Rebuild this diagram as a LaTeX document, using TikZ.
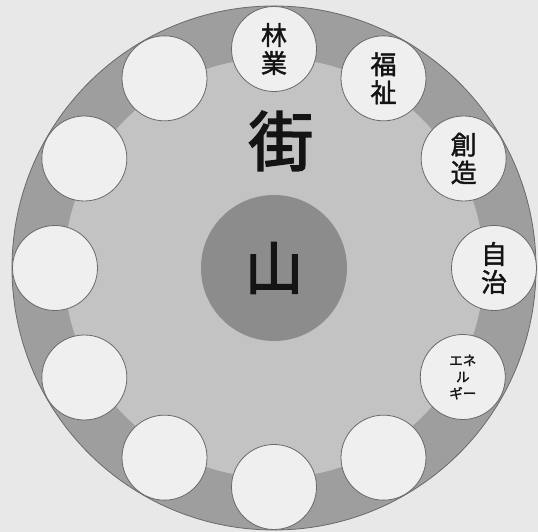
\documentclass[tikz,border=0pt]{standalone}
\usepackage{fontspec}
\usetikzlibrary{calc}
\newfontfamily\jp[FakeBold=1.6]{Noto Sans CJK JP}
\newfontfamily\jpb[FakeBold=2.5]{Noto Sans CJK JP}
\definecolor{bgc}{RGB}{232,232,232}
\definecolor{ringc}{RGB}{158,158,158}
\definecolor{innerc}{RGB}{195,195,195}
\definecolor{corec}{RGB}{140,140,140}
\definecolor{smallc}{RGB}{239,239,239}
\definecolor{linec}{RGB}{105,105,105}
\definecolor{txt}{RGB}{20,20,20}
\tikzset{
  bubble/.style={circle, draw=linec, line width=0.8pt, fill=smallc, minimum size=85pt, inner sep=0pt, align=center, text=txt, font=\jp\fontsize{26}{28}\selectfont},
  smallbubble/.style={bubble, font=\jp\fontsize{13.5}{16.5}\selectfont}
}
\begin{document}
\begin{tikzpicture}[x=1pt,y=1pt]
\useasboundingbox (0,0) rectangle (538,532);
\fill[bgc] (0,0) rectangle (538,532);
\coordinate (O) at (274,264);
\begin{scope}
\clip (0,0) rectangle (538,532);
\draw[linec, line width=0.8pt, fill=ringc] (O) circle (262);
\end{scope}
\fill[innerc] (O) circle (210);
\node[circle, fill=corec, minimum size=146pt, inner sep=0pt, text=txt, font=\jpb\fontsize{58}{60}\selectfont] (core) at (O) {山};
\node[text=txt, font=\jpb\fontsize{65}{67}\selectfont, inner sep=0pt] (machi) at ($(O)+(7,127)$) {街};
\node[bubble] (b90) at ($(O)+(90:219)$) {林\\業};
\node[bubble] (b60) at ($(O)+(60:219)$) {福\\祉};
\node[bubble] (b30) at ($(O)+(30:219)$) {創\\造};
\node[bubble] (b0) at ($(O)+(0:220)$) {自\\治};
\node[smallbubble] (bm30) at ($(O)+(-30:218)$) {エネ\\ル\\ギー};
\node[bubble] (bm60) at ($(O)+(-60:219)$) {};
\node[bubble] (bm90) at ($(O)+(-90:219)$) {};
\node[bubble] (bm120) at ($(O)+(-120:219)$) {};
\node[bubble] (bm150) at ($(O)+(-150:219)$) {};
\node[bubble] (b180) at ($(O)+(180:219)$) {};
\node[bubble] (b150) at ($(O)+(150:219)$) {};
\node[bubble] (b120) at ($(O)+(120:219)$) {};
\end{tikzpicture}
\end{document}
